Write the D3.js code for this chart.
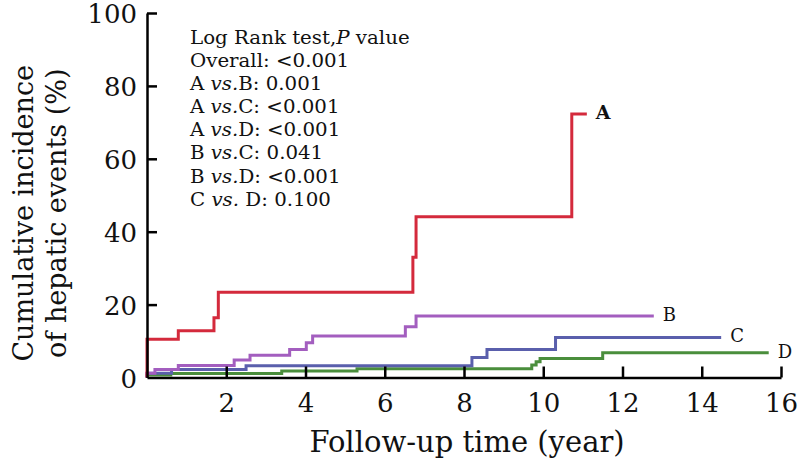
<!DOCTYPE html>
<html>
<head>
<meta charset="utf-8">
<script src="https://cdn.jsdelivr.net/npm/d3@7"></script>
<style>
  html, body { margin: 0; padding: 0; background: #fff; }
  svg { display: block; }
  text { font-family: "DejaVu Serif", "Liberation Serif", serif; fill: #111; }
</style>
</head>
<body>
<svg id="chart" width="800" height="463"></svg>
<script>
// ---- Data ----
const seriesNames = ["A", "B", "C", "D"];
const timesA = [0, 0.79, 1.69, 1.80, 6.71, 6.79, 10.72];
const valuesA = [10.5, 12.8, 16.4, 23.4, 33.0, 44.1, 72.3];
const endA = 11.1;
const timesB = [0, 0.2, 0.79, 2.2, 2.6, 3.6, 4.02, 4.18, 6.52, 6.79];
const valuesB = [1.2, 2.2, 3.3, 4.8, 6.1, 7.7, 9.5, 11.4, 13.9, 16.9];
const endB = 12.79;
const timesC = [0, 0.62, 2.5, 8.2, 8.58, 10.31];
const valuesC = [1.2, 2.2, 3.2, 5.5, 7.7, 11.0];
const endC = 14.49;
const timesD = [0, 0.6, 3.4, 5.3, 9.71, 9.82, 9.92, 11.5];
const valuesD = [0.7, 1.1, 1.8, 2.4, 3.4, 4.3, 5.2, 6.8];
const endD = 15.69;
const xTicks = [2, 4, 6, 8, 10, 12, 14, 16];
const yTicks = [0, 20, 40, 60, 80, 100];
const legendLines = [
  [["Log Rank test,", false], ["P", true], [" value", false]],
  [["Overall: <0.001", false]],
  [["A ", false], ["vs.", true], ["B: 0.001", false]],
  [["A ", false], ["vs.", true], ["C: <0.001", false]],
  [["A ", false], ["vs.", true], ["D: <0.001", false]],
  [["B ", false], ["vs.", true], ["C: 0.041", false]],
  [["B ", false], ["vs.", true], ["D: <0.001", false]],
  [["C ", false], ["vs.", true], [" D: 0.100", false]]
];
const colors = { A: "#d42a3c", B: "#a35ebf", C: "#5a5fac", D: "#4a8e3c" };

// ---- Layout ----
const svg = d3.select("#chart");
const x = d3.scaleLinear().domain([0, 16]).range([147, 781]);
const y = d3.scaleLinear().domain([0, 100]).range([377.5, 13]);

const series = [
  { name: "D", t: timesD, v: valuesD, end: endD },
  { name: "C", t: timesC, v: valuesC, end: endC },
  { name: "B", t: timesB, v: valuesB, end: endB },
  { name: "A", t: timesA, v: valuesA, end: endA }
];

const line = d3.line().x(d => x(d[0])).y(d => y(d[1])).curve(d3.curveStepAfter);

series.forEach(s => {
  const pts = [[0, 0]].concat(s.t.map((t, i) => [t, s.v[i]]));
  pts.push([s.end, s.v[s.v.length - 1]]);
  svg.append("path")
    .attr("d", line(pts))
    .attr("fill", "none")
    .attr("stroke", colors[s.name])
    .attr("stroke-width", 3)
    .attr("stroke-linejoin", "miter");
});

// ---- Axes ----
const xAxis = d3.axisBottom(x).tickValues(xTicks).tickSizeInner(-11).tickSizeOuter(0).tickPadding(16);
const gx = svg.append("g").attr("transform", `translate(0,${y(0)})`).call(xAxis);
gx.select(".domain").attr("stroke", "#000").attr("stroke-width", 2.5);
gx.selectAll(".tick line").attr("stroke", "#000").attr("stroke-width", 2.5);
gx.selectAll(".tick text").attr("font-size", 26).attr("fill", "#111")
  .attr("font-family", "DejaVu Serif").attr("dy", "0.72em");

const yAxis = d3.axisLeft(y).tickValues(yTicks).tickSizeInner(-10).tickSizeOuter(0).tickPadding(20);
const gy = svg.append("g").attr("transform", `translate(${x(0)},0)`).call(yAxis);
gy.select(".domain").attr("stroke", "#000").attr("stroke-width", 2.5);
gy.selectAll(".tick line").attr("stroke", "#000").attr("stroke-width", 2.5);
gy.selectAll(".tick text").attr("font-size", 26).attr("fill", "#111")
  .attr("font-family", "DejaVu Serif").attr("x", -10).attr("dy", "0.38em");
gy.selectAll(".tick").filter(d => d === 0).select("line").remove();

// ---- Axis titles ----
svg.append("text")
  .attr("x", 467).attr("y", 452)
  .attr("text-anchor", "middle").attr("font-size", 29)
  .text("Follow-up time (year)");

const yt = svg.append("g").attr("transform", `translate(33,${(y(0) + y(100)) / 2 + 18}) rotate(-90)`);
yt.append("text").attr("x", 0).attr("y", 0).attr("text-anchor", "middle").attr("font-size", 27)
  .text("Cumulative incidence");
yt.append("text").attr("x", 0).attr("y", 33).attr("text-anchor", "middle").attr("font-size", 27)
  .text("of hepatic events (%)");

// ---- Legend text ----
const lg = svg.append("g").attr("transform", "translate(190,0) scale(1.1,1)");
legendLines.forEach((parts, i) => {
  const t = lg.append("text").attr("x", 0).attr("y", 44 + i * 23.1).attr("font-size", 18);
  parts.forEach(p => {
    t.append("tspan").attr("font-style", p[1] ? "italic" : "normal").text(p[0]);
  });
});

// ---- Series labels ----
seriesNames.forEach(n => {
  const s = series.find(d => d.name === n);
  const last = s.v[s.v.length - 1];
  const g = svg.append("g")
    .attr("transform", `translate(${x(s.end) + 9},${y(last) + 5})`);
  g.append("text").attr("x", 0).attr("y", 0).attr("font-size", n === "A" ? 19 : 18)
    .attr("font-weight", n === "A" ? "bold" : "normal")
    .text(n);
});
</script>
</body>
</html>
